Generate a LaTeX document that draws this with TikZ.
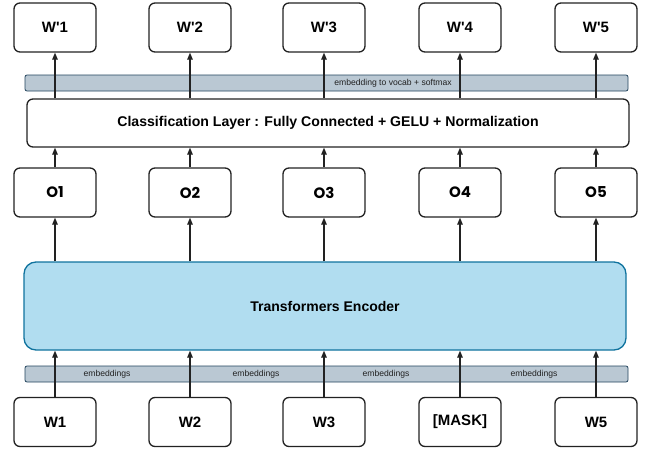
\documentclass[tikz,border=0pt]{standalone}
\usepackage{fontspec}
\setmainfont{Liberation Sans}
\newfontfamily\ofont{Poppins}
\usetikzlibrary{arrows.meta}
\definecolor{stripfill}{HTML}{BAC8D3}
\definecolor{stripline}{HTML}{23445D}
\definecolor{encfill}{HTML}{B1DDF0}
\definecolor{encline}{HTML}{10739E}
\definecolor{ink}{HTML}{222222}
\tikzset{
  tokbox/.style={draw=ink, line width=1.3pt, rounded corners=6pt, fill=white,
    minimum width=82pt, minimum height=49pt, inner sep=0pt,
    font=\fontsize{15}{18}\selectfont\bfseries},
  outbox/.style={tokbox, font=\fontsize{15}{18}\ofont\bfseries},
  wide/.style={draw=ink, line width=1.3pt, rounded corners=6pt, fill=white,
    minimum width=602pt, minimum height=48pt, inner sep=0pt},
  strip/.style={draw=stripline, line width=0.8pt, rounded corners=2pt, fill=stripfill,
    minimum width=603pt, minimum height=16pt, inner sep=0pt},
  striptext/.style={font=\fontsize{8.6}{10}\selectfont, text=ink, inner sep=0pt},
  arr/.style={draw=ink, line width=1.2pt, -{Triangle[length=7pt,width=5.5pt]}}
}
\begin{document}
\begin{tikzpicture}[x=1pt,y=-1pt]
\useasboundingbox (0,0) rectangle (646,450);

% layers
\node[strip] (topstrip) at (326.5,83) {};
\node[striptext] (toplab) at (393,83) {embedding to vocab + softmax};
\node[wide, font=\fontsize{14.1}{17}\selectfont\bfseries] (cls) at (328,123)
  {Classification Layer : Fully Connected + GELU + Normalization};
\node[wide, draw=encline, fill=encfill, minimum height=88pt, rounded corners=12pt,
  font=\fontsize{14}{17}\selectfont\bfseries] (enc) at (325,306) {Transformers Encoder};
\node[strip] (botstrip) at (326.5,374) {};
\node[striptext] (e1) at (107,374) {embeddings};
\node[striptext] (e2) at (256,374) {embeddings};
\node[striptext] (e3) at (386,374) {embeddings};
\node[striptext] (e4) at (534,374) {embeddings};

% token columns
\foreach \i/\x/\w in {1/55/W1, 2/190/W2, 3/324/W3, 4/460/[MASK], 5/596/W5} {
  \node[tokbox] (wt\i) at (\x,27.5) {W\textquotesingle\i};
  \node[outbox] (o\i) at (\x,192.5) {O\i};
  \node[tokbox] (w\i) at (\x,422) {\w};
}

% connectors
\foreach \i in {1,...,5} {
  \draw[arr] (w\i.north) -- (enc.south -| w\i.north);
  \draw[arr] (enc.north -| o\i.south) -- (o\i.south);
  \draw[arr] (o\i.north) -- (cls.south -| o\i.north);
  \draw[arr] (cls.north -| wt\i.south) -- (wt\i.south);
}
\end{tikzpicture}
\end{document}
